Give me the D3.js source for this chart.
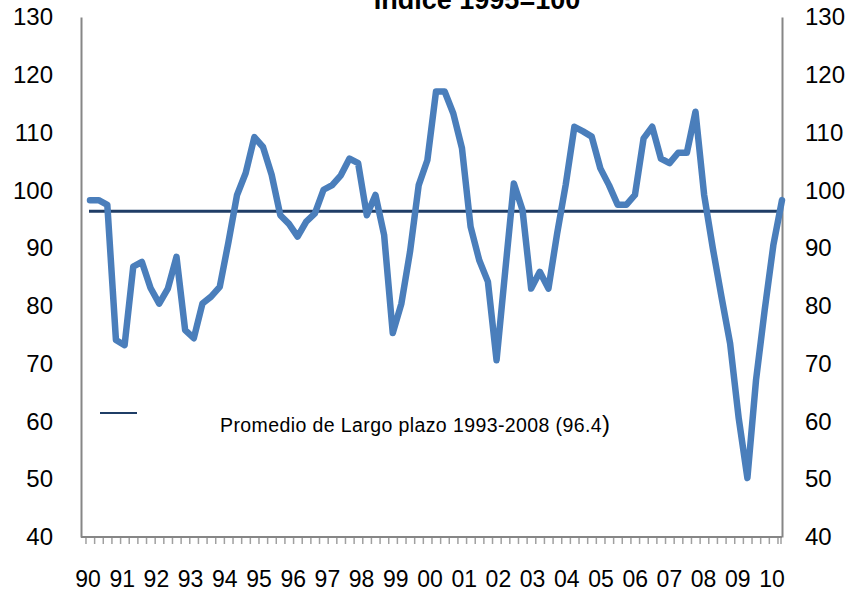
<!DOCTYPE html>
<html>
<head>
<meta charset="utf-8">
<script src="https://cdn.jsdelivr.net/npm/d3@7"></script>
<style>
  body { margin: 0; background: #fff; }
  text { font-family: "Liberation Sans", Arial, sans-serif; }
</style>
</head>
<body>
<div id="chart"></div>
<script>
// quarterly index, 1990Q1 .. 2010Q1
var values = [
  98.3, 98.3, 97.5, 74.1, 73.2, 86.8, 87.6, 83.1,   // 90-91
  80.4, 83.0, 88.5, 75.8, 74.4, 80.4, 81.6, 83.3,   // 92-93
  91.0, 99.2, 103.0, 109.2, 107.5, 102.7, 95.7, 94.2, // 94-95
  92.0, 94.6, 96.0, 100.1, 100.9, 102.6, 105.5, 104.7, // 96-97
  95.7, 99.2, 92.3, 75.3, 80.4, 89.4, 100.9, 105.2, // 98-99
  117.1, 117.1, 113.3, 107.3, 93.7, 87.9, 84.2, 70.6, // 00-01
  86.0, 101.2, 96.6, 83.0, 85.9, 83.0, 92.5, 101.0, // 02-03
  111.0, 110.2, 109.3, 103.8, 100.9, 97.5, 97.5, 99.2, // 04-05
  109.0, 111.0, 105.5, 104.7, 106.5, 106.5, 113.6, 99.2, // 06-07
  90.0, 81.6, 73.5, 60.5, 50.2, 67.2, 79.3, 90.5, // 08-09
  98.3                                              // 10
];
var average = 96.4;
var yearLabels = ["90","91","92","93","94","95","96","97","98","99","00",
                  "01","02","03","04","05","06","07","08","09","10"];
var yTicks = [40, 50, 60, 70, 80, 90, 100, 110, 120, 130];
var titleText = "Índice 1995=100";
var legendText = "Promedio de Largo plazo 1993-2008 (96.4";

var width = 853, height = 592;
var plotLeft = 81, plotRight = 782, plotTop = 17, plotBottom = 537;

var svg = d3.select("#chart")
  .append("svg")
    .attr("width", width)
    .attr("height", height);

var idx = d3.range(values.length);

var x = d3.scalePoint()
    .domain(idx)
    .range([90, plotRight]);

var y = d3.scaleLinear()
    .domain([40, 130])
    .range([plotBottom, plotTop]);

// year labels
var xl = d3.scalePoint()
    .domain(yearLabels)
    .range([88, 772]);

var axisColor = "#868686";

// left axis
var gl = svg.append("g")
    .attr("transform", "translate(" + plotLeft + ",0)")
    .call(d3.axisLeft(y).tickValues(yTicks).tickSize(0).tickPadding(28));
gl.select(".domain").attr("stroke", axisColor).attr("stroke-width", 2);
gl.selectAll("text").attr("font-size", 24).attr("fill", "#000")
  .attr("font-family", "'Liberation Sans', Arial, sans-serif");

// right axis
var gr = svg.append("g")
    .attr("transform", "translate(" + plotRight + ",0)")
    .call(d3.axisRight(y).tickValues(yTicks).tickSize(0).tickPadding(23));
gr.select(".domain").attr("stroke", axisColor).attr("stroke-width", 2);
gr.selectAll("text").attr("font-size", 24).attr("fill", "#000")
  .attr("font-family", "'Liberation Sans', Arial, sans-serif");

// bottom axis line + quarter ticks
svg.append("line")
    .attr("x1", plotLeft).attr("x2", plotRight)
    .attr("y1", plotBottom).attr("y2", plotBottom)
    .attr("stroke", axisColor).attr("stroke-width", 2);

var step = x.step();
var tickPos = idx.map(function(i) { return x(i) - step / 2 + 0.3; });
tickPos.push(plotRight - 1);
svg.append("g").selectAll("line")
  .data(tickPos)
  .enter()
  .append("line")
    .attr("x1", function(d) { return d; })
    .attr("x2", function(d) { return d; })
    .attr("y1", plotBottom + 1)
    .attr("y2", plotBottom + 7)
    .attr("stroke", "#a0a0a0")
    .attr("stroke-width", 1.5);

svg.append("g").selectAll("text")
  .data(yearLabels)
  .enter()
  .append("text")
    .attr("x", function(d) { return xl(d); })
    .attr("y", 587)
    .attr("text-anchor", "middle")
    .attr("font-size", 23)
    .text(function(d) { return d; });

// average line
svg.append("line")
    .attr("x1", x(0) - 1).attr("x2", x(values.length - 1))
    .attr("y1", y(average)).attr("y2", y(average))
    .attr("stroke", "#1f3d66")
    .attr("stroke-width", 3);

// index line
var line = d3.line()
    .x(function(d, i) { return x(i); })
    .y(function(d) { return y(d); });

svg.append("path")
    .datum(values)
    .attr("fill", "none")
    .attr("stroke", "#4a7ebb")
    .attr("stroke-width", 6.5)
    .attr("stroke-linejoin", "round")
    .attr("stroke-linecap", "round")
    .attr("d", line);

// legend
svg.append("line")
    .attr("x1", 100).attr("x2", 137)
    .attr("y1", 413).attr("y2", 413)
    .attr("stroke", "#1f3d66")
    .attr("stroke-width", 2);
var lt = svg.append("text")
    .attr("x", 220)
    .attr("y", 432)
    .attr("font-size", 19.5)
    .attr("letter-spacing", 0.4)
    .text(legendText);
lt.append("tspan").attr("font-size", 24).text(")");

// title (clipped by top edge)
svg.append("text")
    .attr("x", 477)
    .attr("y", 9)
    .attr("text-anchor", "middle")
    .attr("font-size", 27)
    .attr("font-weight", "bold")
    .text(titleText);
</script>
</body>
</html>
